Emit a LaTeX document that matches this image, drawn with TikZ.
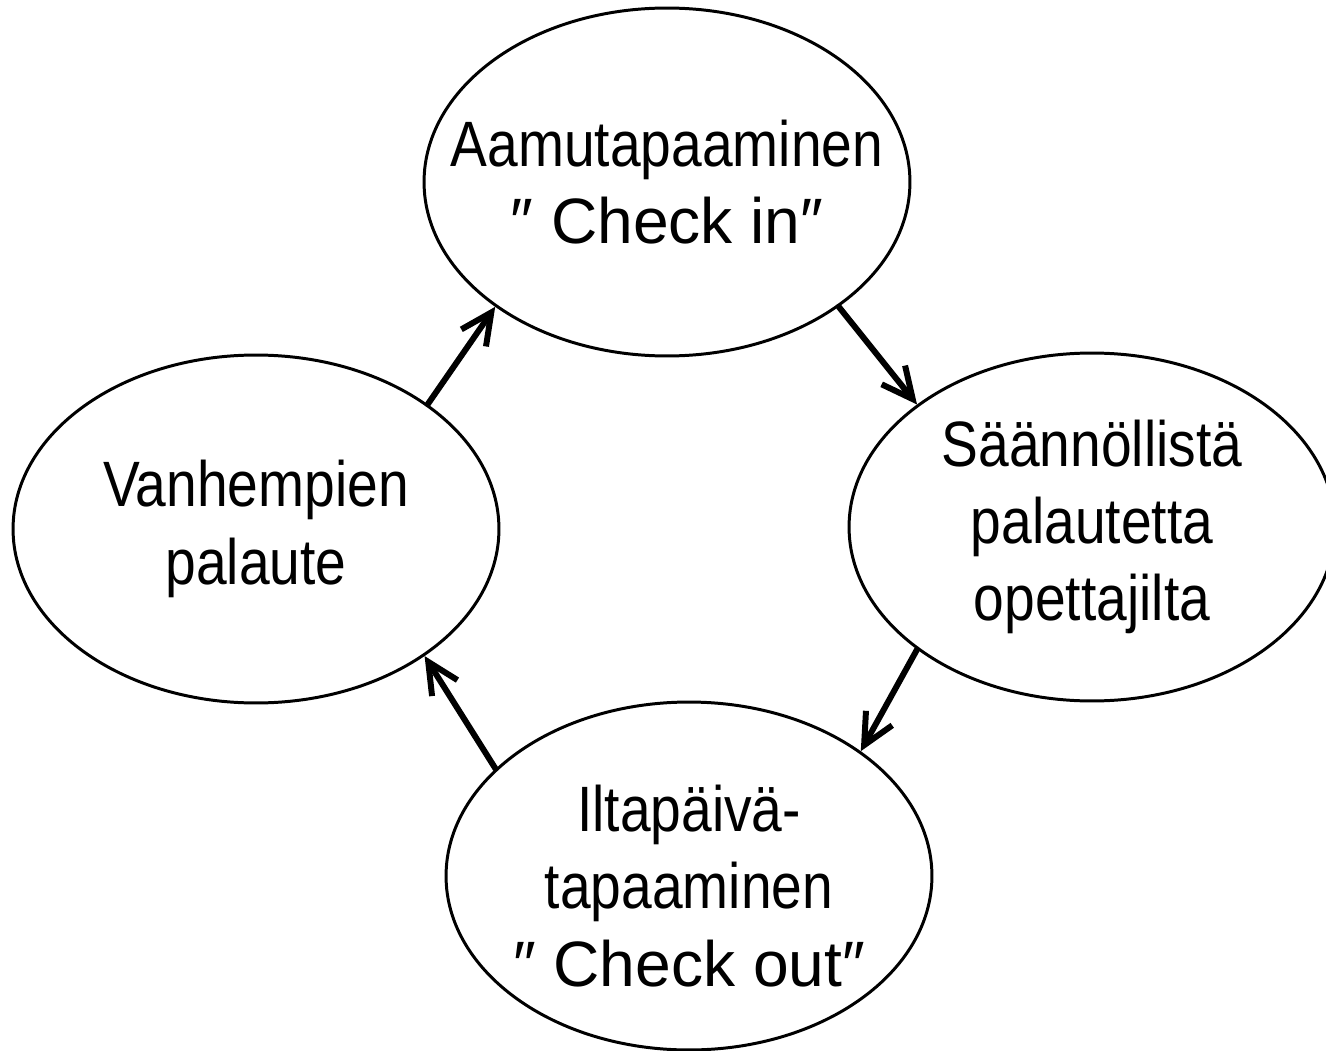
\documentclass[tikz,border=0pt]{standalone}
\usepackage{fontspec}
\setmainfont{Liberation Sans}[FakeStretch=0.86]
\newfontfamily\widefont{Liberation Sans}
\usetikzlibrary{arrows.meta,shapes.geometric}
\begin{document}
\begin{tikzpicture}[x=0.02cm,y=-0.02cm,
  bubble/.style={ellipse, draw, line width=1.7pt, minimum width=9.72cm, minimum height=6.96cm,
    inner sep=0pt},
  label/.style={inner sep=0pt, align=center, font=\fontsize{36.5}{44}\selectfont},
  flow/.style={line width=3.4pt, line cap=round, -{Straight Barb[length=0.62cm,width=0.6cm]}}]
\useasboundingbox (0,0) rectangle (1326,1051);
\clip (0,0) rectangle (1326,1051);
\node[bubble] (T) at (667,182) {};
\node[bubble] (R) at (1092,527) {};
\node[bubble] (L) at (256,529) {};
\node[bubble] (B) at (689,876) {};
\node[label] (Tt) at (T.center) {Aamutapaaminen\\{\widefont ″ Check in″}};
\node[label] (Rt) at (R.center) {Säännöllistä\\palautetta\\opettajilta};
\node[label] (Lt) at (L.center) {Vanhempien\\palaute};
\node[label] (Bt) at ([yshift=-0.2cm]B.center) {Iltapäivä-\\tapaaminen\\{\widefont ″ Check out″}};
\draw[flow] (L.36) -- (T.216);
\draw[flow] (T.-36) -- (R.145);
\draw[flow] (R.215) -- (B.36);
\draw[flow] (B.151) -- (L.-37);
\end{tikzpicture}
\end{document}
